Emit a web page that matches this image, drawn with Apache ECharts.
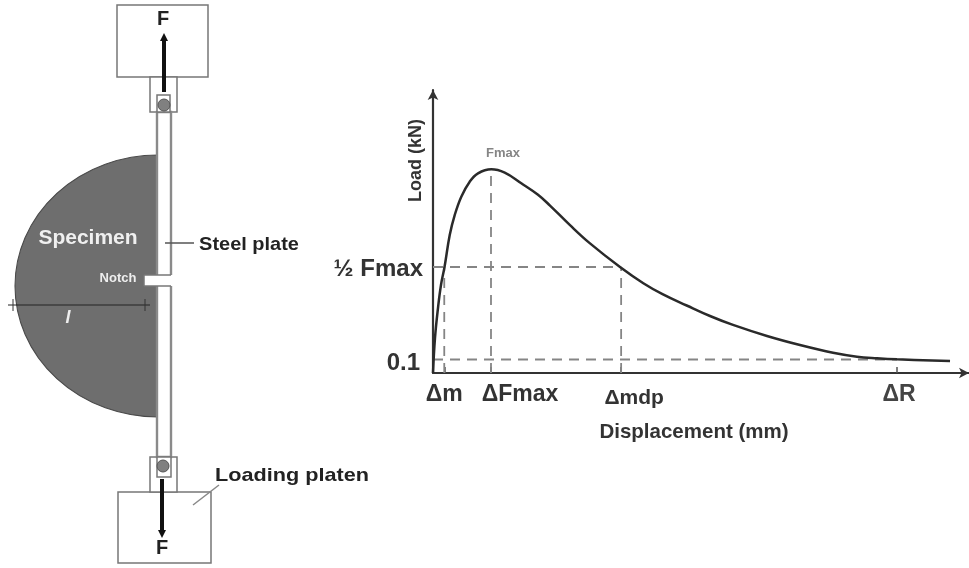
<!DOCTYPE html>
<html>
<head>
<meta charset="utf-8">
<style>html,body{margin:0;padding:0;background:#fff}#c{width:969px;height:568px}</style>
<script src="https://cdn.jsdelivr.net/npm/echarts@6/dist/echarts.min.js"></script>
</head>
<body>
<div id="c"></div>
<script>
// Load-displacement curve
const displacement = [0, 0.37, 0.93, 1.49, 2.15, 3.12, 4.05, 5.28, 6.85, 8.4, 10.88, 13.38, 16.47, 19.59, 21.83, 25.56, 29.29, 34.89, 39.24, 42.91, 47.33, 51.68, 55.97, 62.31, 68.47, 74.63, 79.1, 82.84, 86.57, 96.46];
const load = [0, 0.259, 0.481, 0.652, 0.785, 1.022, 1.17, 1.306, 1.417, 1.479, 1.509, 1.484, 1.405, 1.32, 1.24, 1.095, 0.96, 0.785, 0.665, 0.582, 0.5, 0.422, 0.356, 0.274, 0.207, 0.15, 0.121, 0.109, 0.101, 0.089];
// Marked positions on the axes
const xMarks = [2.1, 10.82, 35.1, 86.57];
const xMarkLabels = ['Δm', 'ΔFmax', 'Δmdp', 'ΔR'];
const yMarks = [0.1, 0.785];
const yMarkLabels = ['0.1', '½ Fmax'];
const peakLoad = 1.509;
const xMax = 100, yMax = 2.096;

const FONT = '"Liberation Sans", Arial, sans-serif';
const dash = { color: '#858585', width: 1.8, type: [10, 7] };
const guide = (name, pts) => ({
  name, type: 'line', data: pts, symbol: 'none', silent: true, z: 1,
  lineStyle: dash, animation: false
});

// Specimen schematic (left side)
const EDGE = '#777';
const rect = (x, y, w, h, extra) => ({ type: 'rect', shape: { x, y, width: w, height: h }, style: Object.assign({ fill: '#fff', stroke: EDGE, lineWidth: 1.5 }, extra || {}) });
const line = (x1, y1, x2, y2, stroke, w) => ({ type: 'line', shape: { x1, y1, x2, y2 }, style: { stroke, lineWidth: w } });
const circle = (cx, cy, r) => ({ type: 'circle', shape: { cx, cy, r }, style: { fill: '#808080', stroke: '#555', lineWidth: 1 } });
const tri = (p) => ({ type: 'polygon', shape: { points: p }, style: { fill: '#111' } });
const text = (t, x, y, size, fill, extra) => ({
  type: 'text', x, y, scaleX: (extra && extra.sx) || 1, z: 5,
  style: { text: t, x: 0, y: 0, fill, font: (extra && extra.font) || `bold ${size}px ${FONT}`, align: (extra && extra.align) || 'center', verticalAlign: 'middle' }
});
const schematic = [
  { type: 'sector', x: 158, y: 286, scaleX: 143 / 131, shape: { cx: 0, cy: 0, r0: 0, r: 131, startAngle: Math.PI / 2, endAngle: Math.PI * 1.5, clockwise: true }, style: { fill: '#6e6e6e', stroke: '#4a4a4a', lineWidth: 1 } },
  rect(117, 5, 91, 72),
  rect(150, 77, 27, 35),
  rect(118, 492, 93, 71),
  rect(150, 457, 27, 35),
  rect(157, 112, 14, 345, { lineWidth: 2.4, stroke: '#8a8a8a' }),
  rect(157, 95, 13, 17),
  rect(157, 457, 14, 20),
  circle(164, 105, 6),
  circle(163, 466, 6),
  rect(144, 275, 29, 11, { stroke: 'none' }),
  line(144, 275, 171, 275, EDGE, 1.5),
  line(144, 286, 171, 286, EDGE, 1.5),
  line(144, 275, 144, 286, EDGE, 1.5),
  line(164, 92, 164, 40, '#111', 4),
  tri([[164, 33], [160, 41], [168, 41]]),
  line(162, 479, 162, 530, '#111', 4),
  tri([[162, 538], [158, 530], [166, 530]]),
  line(8, 305, 150, 305, '#222', 1),
  line(13, 299, 13, 311, '#333', 1),
  line(145, 299, 145, 311, '#333', 1),
  line(165, 243, 194, 243, '#555', 1.5),
  line(219, 485, 193, 505, '#888', 1.5),
  text('F', 163, 19, 20, '#222'),
  text('F', 162, 548, 20, '#222'),
  text('Specimen', 88, 238, 21, '#f0f0f0'),
  text('Notch', 118, 278, 13, '#eee'),
  text('l', 68, 318, 18, '#eee', { font: `italic bold 18px ${FONT}` }),
  text('Steel plate', 249, 245, 19, '#222', { sx: 1.05 }),
  text('Loading platen', 292, 476, 19, '#222', { sx: 1.14 })
];

const labelRich = {
  a: { fontSize: 23, fontWeight: 'bold', fontFamily: FONT, color: '#333' },
  b: { fontSize: 23, fontWeight: 'bold', fontFamily: FONT, color: '#333', padding: [0, 0, 0, 58] },
  c: { fontSize: 21, fontWeight: 'bold', fontFamily: FONT, color: '#333', padding: [5, 0, 0, 26] },
  d: { fontSize: 23, fontWeight: 'bold', fontFamily: FONT, color: '#444', padding: [0, 0, 0, 4] }
};
const richKeys = ['a', 'b', 'c', 'd'];
const yRich = {
  low: { fontSize: 24, fontWeight: 'bold', fontFamily: FONT, color: '#333', padding: [7, 3, 0, 0] },
  half: { fontSize: 24, fontWeight: 'bold', fontFamily: FONT, color: '#333', padding: [4, 0, 0, 0] }
};
const yRichKeys = ['low', 'half'];

const chart = echarts.init(document.getElementById('c'), null, { renderer: 'canvas' });
chart.setOption({
  animation: false,
  backgroundColor: '#fff',
  graphic: schematic,
  grid: { left: 433, right: 0, top: 90, bottom: 195 },
  xAxis: {
    type: 'value', min: 0, max: xMax,
    splitLine: { show: false },
    name: 'Displacement (mm)', nameLocation: 'middle', nameGap: 49, nameMoveOverlap: false,
    nameTextStyle: { fontFamily: FONT, fontWeight: 'bold', fontSize: 20.5, color: '#333', padding: [0, 14, 0, 0] },
    axisLine: { symbol: ['none', 'arrow'], symbolSize: [8, 10], lineStyle: { color: '#333', width: 2.2 } },
    axisTick: { customValues: xMarks, inside: true, length: 6, lineStyle: { color: '#555', width: 1.5 } },
    axisLabel: {
      customValues: xMarks, margin: 10, hideOverlap: false,
      formatter: (v) => { const i = xMarks.indexOf(v); return `{${richKeys[i]}|${xMarkLabels[i]}}`; },
      rich: labelRich
    }
  },
  yAxis: {
    type: 'value', min: 0, max: yMax,
    splitLine: { show: false },
    name: 'Load (kN)', nameLocation: 'middle', nameGap: 8, nameMoveOverlap: false,
    nameTextStyle: { fontFamily: FONT, fontWeight: 'bold', fontSize: 18, color: '#333', padding: [0, 0, 0, 142] },
    axisLine: { symbol: ['none', 'arrow'], symbolSize: [8, 10], lineStyle: { color: '#333', width: 2.2 } },
    axisTick: { show: false },
    axisLabel: {
      customValues: yMarks, margin: 10, hideOverlap: false,
      formatter: (v) => { const i = yMarks.indexOf(v); return `{${yRichKeys[i]}|${yMarkLabels[i]}}`; },
      rich: yRich
    }
  },
  series: [
    guide('half-h', [[0, yMarks[1]], [xMarks[2], yMarks[1]]]),
    guide('low-h', [[0, yMarks[0]], [xMarks[3], yMarks[0]]]),
    guide('m-v', [[xMarks[0], 0], [xMarks[0], yMarks[1]]]),
    guide('f-v', [[xMarks[1], 0], [xMarks[1], peakLoad]]),
    guide('mdp-v', [[xMarks[2], 0], [xMarks[2], yMarks[1]]]),
    {
      name: 'Load', type: 'line', z: 3, symbol: 'none', smooth: 0.4,
      lineStyle: { color: '#2a2a2a', width: 2.5 },
      data: displacement.map((x, i) => [x, load[i]])
    },
    {
      name: 'Fmax', type: 'scatter', symbolSize: 0, silent: true,
      data: [[xMarks[1], peakLoad]],
      label: { show: true, position: 'top', offset: [12, -4], formatter: 'Fmax', fontFamily: FONT, fontWeight: 'bold', fontSize: 13, color: '#666' }
    }
  ]
});
</script>
</body>
</html>
